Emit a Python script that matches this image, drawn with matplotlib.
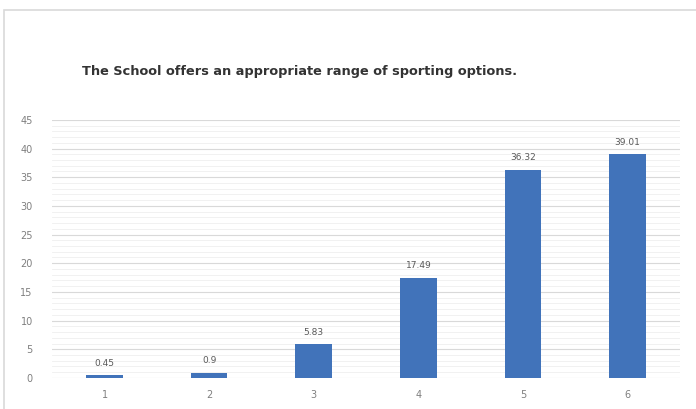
import matplotlib.pyplot as plt
from matplotlib.patches import Rectangle
import numpy as np

categories = ['1', '2', '3', '4', '5', '6']
values = [0.45, 0.9, 5.83, 17.49, 36.32, 39.01]
value_labels = ['0.45', '0.9', '5.83', '17.49', '36.32', '39.01']

fig = plt.figure(figsize=(6.96, 4.09), dpi=100)
ax = fig.add_axes([0.075, 0.076, 0.902, 0.631])

# outer chart frame
fig.patches.append(Rectangle((0.006, -0.02), 1.2, 0.996, transform=fig.transFigure,
                             facecolor='none', edgecolor='#d9d9d9', lw=1.2))

x = np.arange(1, len(categories) + 1)
ax.bar(x, values, width=0.35, color='#4173BA', zorder=3)
for xi, v, lab in zip(x, values, value_labels):
    ax.text(xi, v + 1.3, lab, ha='center', va='bottom', fontsize=6.5, color='#595959')

ax.set_xlim(0.5, 6.5)
ax.set_ylim(0, 45)
ax.set_xticks(x)
ax.set_xticklabels(categories)
ax.set_yticks(np.arange(0, 46, 5))
ax.set_yticks(np.arange(0, 46, 1), minor=True)
ax.grid(axis='y', which='major', color='#d9d9d9', lw=0.8, zorder=0)
ax.grid(axis='y', which='minor', color='#efefef', lw=0.6, zorder=0)
ax.tick_params(axis='both', which='both', length=0, labelsize=7, colors='#7f7f7f')
ax.tick_params(axis='y', pad=14)
ax.tick_params(axis='x', pad=9)
for s in ax.spines.values():
    s.set_visible(False)

fig.text(300 / 696, 1 - 72 / 409, 'The School offers an appropriate range of sporting options.',
         ha='center', va='center', fontsize=9.3, fontweight='bold', color='#333333')

plt.savefig('out.png', dpi=100)
